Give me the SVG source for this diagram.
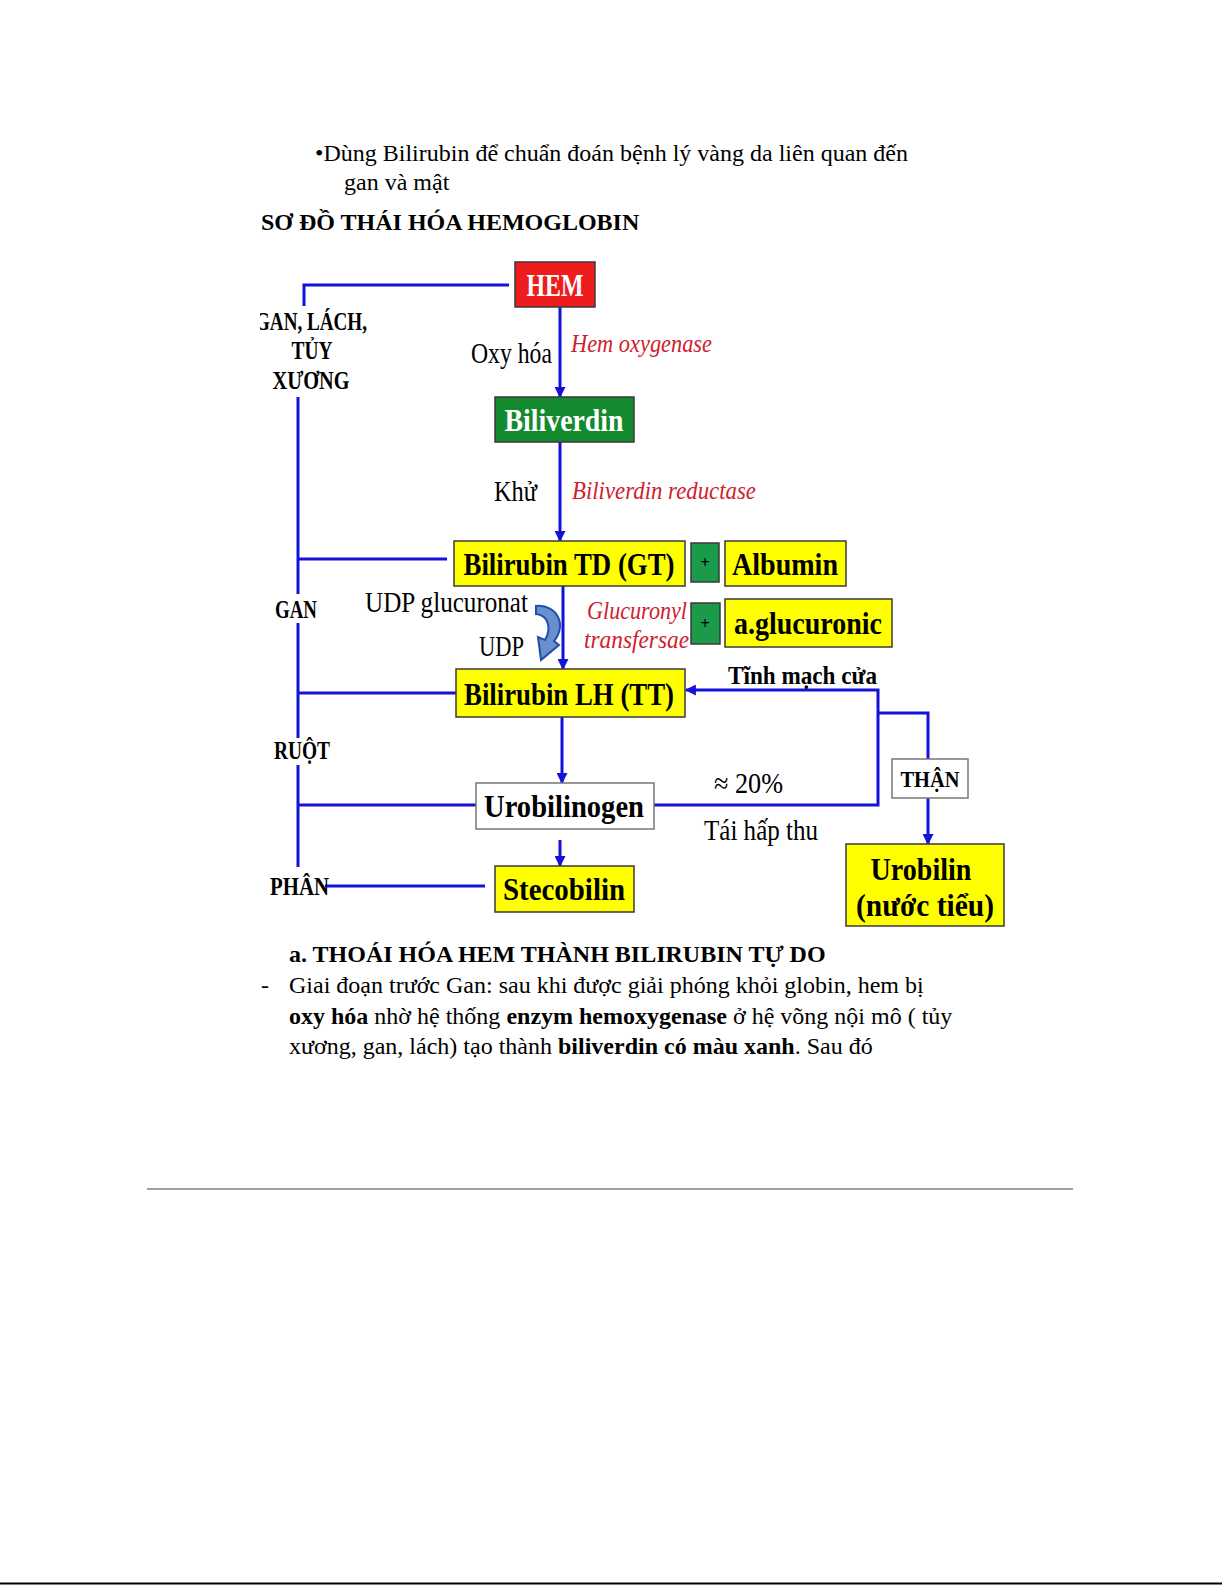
<svg xmlns="http://www.w3.org/2000/svg" width="1225" height="1585" viewBox="0 0 1225 1585">
<style>
.doc{font-family:"Liberation Serif","Times New Roman",serif;font-size:24px;fill:#000}
.b{font-weight:bold}
.lbl{font-family:"Liberation Serif","Times New Roman",serif;font-weight:bold;font-size:25px;fill:#000}
.reg{font-family:"Liberation Serif","Times New Roman",serif;font-size:29px;fill:#000}
.enz{font-family:"Liberation Serif","Times New Roman",serif;font-style:italic;font-size:26px;fill:#d0202e}
.box{stroke:#3a3a3a;stroke-width:1.5}
.yel{fill:#ffff00}
.bt{font-family:"Liberation Serif","Times New Roman",serif;font-weight:bold;font-size:32px;fill:#000;text-anchor:middle}
.wt{font-family:"Liberation Serif","Times New Roman",serif;font-weight:bold;font-size:32px;fill:#fff;text-anchor:middle}
.ln{fill:none;stroke:#1212d8;stroke-width:3}
</style>
<defs>
<marker id="ah" viewBox="0 0 10 10" refX="9" refY="5" markerWidth="11" markerHeight="11" markerUnits="userSpaceOnUse" orient="auto">
<path d="M0,0 L10,5 L0,10 z" fill="#1212d8"/>
</marker>
<clipPath id="clipL"><rect x="260" y="240" width="800" height="700"/></clipPath>
</defs>
<rect width="1225" height="1585" fill="#fff"/>

<g id="header">
<text class="doc" x="315" y="161">•Dùng Bilirubin để chuẩn đoán bệnh lý vàng da liên quan đến</text>
<text class="doc" x="344" y="190">gan và mật</text>
<text class="doc b" x="261" y="230">SƠ ĐỒ THÁI HÓA HEMOGLOBIN</text>
</g>

<g id="connectors">
<polyline class="ln" points="509,285 304,285 304,306"/>
<line class="ln" x1="298" y1="397" x2="298" y2="594"/>
<line class="ln" x1="298" y1="623" x2="298" y2="738"/>
<line class="ln" x1="298" y1="765" x2="298" y2="867"/>
<line class="ln" x1="298" y1="559" x2="447" y2="559"/>
<line class="ln" x1="298" y1="693" x2="456" y2="693"/>
<line class="ln" x1="298" y1="805" x2="476" y2="805"/>
<line class="ln" x1="325" y1="886" x2="485" y2="886"/>
<line class="ln" x1="560" y1="307" x2="560" y2="397" marker-end="url(#ah)"/>
<line class="ln" x1="560" y1="442" x2="560" y2="541" marker-end="url(#ah)"/>
<line class="ln" x1="563" y1="586" x2="563" y2="669" marker-end="url(#ah)"/>
<line class="ln" x1="562" y1="717" x2="562" y2="783" marker-end="url(#ah)"/>
<line class="ln" x1="560" y1="840" x2="560" y2="866" marker-end="url(#ah)"/>
<polyline class="ln" points="654,805 878,805 878,690 686,690" marker-end="url(#ah)"/>
<polyline class="ln" points="878,713 928,713 928,759"/>
<line class="ln" x1="928" y1="798" x2="928" y2="844" marker-end="url(#ah)"/>
<path d="M536,606 C558,604 567,626 554,641 L559,645 L541,660 L538,637 L545,640 C552,628 548,615 536,614 Z" fill="#6a8fcc" stroke="#1d4fae" stroke-width="2"/>
</g>

<g id="labels" clip-path="url(#clipL)">
<text class="lbl" x="367" y="330" text-anchor="end" textLength="112" lengthAdjust="spacingAndGlyphs">GAN, LÁCH,</text>
<text class="lbl" x="312" y="359" text-anchor="middle" textLength="41" lengthAdjust="spacingAndGlyphs">TỦY</text>
<text class="lbl" x="311" y="389" text-anchor="middle" textLength="77" lengthAdjust="spacingAndGlyphs">XƯƠNG</text>
<text class="lbl" x="275" y="618" textLength="42" lengthAdjust="spacingAndGlyphs">GAN</text>
<text class="lbl" x="274" y="759" textLength="56" lengthAdjust="spacingAndGlyphs">RUỘT</text>
<text class="lbl" x="270" y="895" textLength="59" lengthAdjust="spacingAndGlyphs">PHÂN</text>
<text class="reg" x="471" y="363" textLength="81" lengthAdjust="spacingAndGlyphs">Oxy hóa</text>
<text class="enz" x="571" y="352" textLength="141" lengthAdjust="spacingAndGlyphs">Hem oxygenase</text>
<text class="reg" x="494" y="501" textLength="43" lengthAdjust="spacingAndGlyphs">Khử</text>
<text class="enz" x="572" y="499" textLength="184" lengthAdjust="spacingAndGlyphs">Biliverdin reductase</text>
<text class="reg" x="365" y="612" textLength="163" lengthAdjust="spacingAndGlyphs">UDP glucuronat</text>
<text class="reg" x="479" y="656" textLength="45" lengthAdjust="spacingAndGlyphs">UDP</text>
<text class="enz" x="587" y="619" textLength="100" lengthAdjust="spacingAndGlyphs">Glucuronyl</text>
<text class="enz" x="584" y="648" textLength="105" lengthAdjust="spacingAndGlyphs">transfersae</text>
<text class="lbl" x="728" y="684" textLength="149" lengthAdjust="spacingAndGlyphs">Tĩnh mạch cửa</text>
<text class="reg" x="714" y="793" textLength="69" lengthAdjust="spacingAndGlyphs">≈ 20%</text>
<text class="reg" x="704" y="840" textLength="114" lengthAdjust="spacingAndGlyphs">Tái hấp thu</text>
</g>

<g id="hem"><rect x="515" y="262" width="80" height="45" fill="#ee1c1c" class="box"/><text class="wt" x="555" y="296" textLength="57" lengthAdjust="spacingAndGlyphs">HEM</text></g>
<g id="biliverdin"><rect x="495" y="397" width="139" height="45" fill="#138a2e" class="box"/><text class="wt" x="564" y="431" textLength="119" lengthAdjust="spacingAndGlyphs">Biliverdin</text></g>
<g id="bilirubin-td"><rect x="454" y="541" width="231" height="45" class="box yel"/><text class="bt" x="569" y="575" textLength="211" lengthAdjust="spacingAndGlyphs">Bilirubin TD (GT)</text></g>
<g id="plus1"><rect x="691" y="543" width="28" height="39" fill="#1b9a4a" class="box"/><text class="bt" x="705" y="568" style="font-size:16px">+</text></g>
<g id="albumin"><rect x="725" y="541" width="121" height="45" class="box yel"/><text class="bt" x="785" y="575" textLength="106" lengthAdjust="spacingAndGlyphs">Albumin</text></g>
<g id="plus2"><rect x="691" y="603" width="29" height="41" fill="#1b9a4a" class="box"/><text class="bt" x="705" y="629" style="font-size:16px">+</text></g>
<g id="glucuronic"><rect x="725" y="599" width="167" height="48" class="box yel"/><text class="bt" x="808" y="634" textLength="148" lengthAdjust="spacingAndGlyphs">a.glucuronic</text></g>
<g id="bilirubin-lh"><rect x="456" y="669" width="229" height="48" class="box yel"/><text class="bt" x="569" y="705" textLength="210" lengthAdjust="spacingAndGlyphs">Bilirubin LH (TT)</text></g>
<g id="urobilinogen"><rect x="476" y="783" width="178" height="46" fill="#fff" stroke="#777" stroke-width="1.5"/><text class="bt" x="564" y="817" textLength="160" lengthAdjust="spacingAndGlyphs">Urobilinogen</text></g>
<g id="stecobilin"><rect x="495" y="866" width="139" height="46" class="box yel"/><text class="bt" x="564" y="900" textLength="122" lengthAdjust="spacingAndGlyphs">Stecobilin</text></g>
<g id="than"><rect x="892" y="759" width="76" height="39" fill="#fff" stroke="#777" stroke-width="1.5"/><text class="bt" x="930" y="787" style="font-size:24px" textLength="59" lengthAdjust="spacingAndGlyphs">THẬN</text></g>
<g id="urobilin"><rect x="846" y="844" width="158" height="82" class="box yel"/><text class="bt" x="921" y="880" textLength="101" lengthAdjust="spacingAndGlyphs">Urobilin</text><text class="bt" x="925" y="916" textLength="138" lengthAdjust="spacingAndGlyphs">(nước tiểu)</text></g>

<g id="body">
<text class="doc b" x="289" y="962">a. THOÁI HÓA HEM THÀNH BILIRUBIN TỰ DO</text>
<text class="doc" x="261" y="993">-</text>
<text class="doc" x="289" y="993">Giai đoạn trước Gan: sau khi được giải phóng khỏi globin, hem bị</text>
<text class="doc" x="289" y="1024"><tspan class="b">oxy hóa</tspan> nhờ hệ thống <tspan class="b">enzym hemoxygenase</tspan> ở hệ võng nội mô ( tủy</text>
<text class="doc" x="289" y="1054">xương, gan, lách) tạo thành <tspan class="b">biliverdin có màu xanh</tspan>. Sau đó</text>
</g>
<line x1="147" y1="1189" x2="1073" y2="1189" stroke="#808080" stroke-width="1.5"/>
<line x1="0" y1="1583.5" x2="1222" y2="1583.5" stroke="#000" stroke-width="2"/>
</svg>
